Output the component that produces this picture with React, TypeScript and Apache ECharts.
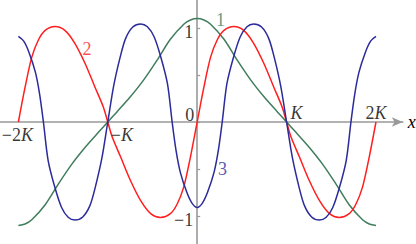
import React, { useEffect, useRef } from 'react';
import * as echarts from 'echarts';

// x in units of K
const green: [number, number][] = [
  [-2, -1.1], [-1.925, -1.085], [-1.85, -1.04], [-1.7, -0.88], [-1.55, -0.655], [-1.4, -0.445],
  [-1.25, -0.265], [-1.1, -0.105], [-1, 0], [-0.9, 0.105], [-0.75, 0.265], [-0.6, 0.445], [-0.45, 0.655],
  [-0.3, 0.88], [-0.15, 1.04], [-0.075, 1.085], [0, 1.1], [0.075, 1.085], [0.15, 1.04], [0.3, 0.88],
  [0.45, 0.655], [0.6, 0.445], [0.75, 0.265], [0.9, 0.105], [1, 0], [1.1, -0.105], [1.25, -0.265],
  [1.4, -0.445], [1.55, -0.655], [1.7, -0.88], [1.85, -1.04], [1.925, -1.085], [2, -1.1],
];

const red: [number, number][] = [
  [-2, 0], [-1.925, 0.37], [-1.85, 0.69], [-1.775, 0.875], [-1.7, 0.975], [-1.59, 1.015], [-1.48, 0.975],
  [-1.37, 0.84], [-1.255, 0.625], [-1.143, 0.37], [-1.05, 0.16], [-1, 0], [-0.95, -0.16], [-0.857, -0.37],
  [-0.745, -0.625], [-0.63, -0.84], [-0.52, -0.975], [-0.41, -1.015], [-0.3, -0.975], [-0.225, -0.875],
  [-0.15, -0.69], [-0.075, -0.37], [0, 0], [0.075, 0.37], [0.15, 0.69], [0.225, 0.875], [0.3, 0.975],
  [0.41, 1.015], [0.52, 0.975], [0.63, 0.84], [0.745, 0.625], [0.857, 0.37], [0.95, 0.16], [1, 0],
  [1.05, -0.16], [1.143, -0.37], [1.255, -0.625], [1.37, -0.84], [1.48, -0.975], [1.59, -1.015],
  [1.7, -0.975], [1.775, -0.875], [1.85, -0.69], [1.925, -0.37], [2, 0],
];

const blue: [number, number][] = [
  [-2, 0.91], [-1.94, 0.86], [-1.883, 0.745], [-1.81, 0.53], [-1.763, 0.3], [-1.72, 0], [-1.667, -0.41],
  [-1.592, -0.695], [-1.518, -0.907], [-1.443, -1.014], [-1.368, -1.043], [-1.28, -1.01], [-1.2, -0.89],
  [-1.14, -0.695], [-1.065, -0.38], [-1, 0], [-0.935, 0.38], [-0.86, 0.695], [-0.8, 0.89], [-0.72, 1.01],
  [-0.632, 1.043], [-0.557, 1.014], [-0.482, 0.907], [-0.408, 0.695], [-0.333, 0.41], [-0.28, 0],
  [-0.237, -0.3], [-0.19, -0.53], [-0.117, -0.745], [-0.06, -0.86], [0, -0.91], [0.06, -0.86],
  [0.117, -0.745], [0.19, -0.53], [0.237, -0.3], [0.28, 0], [0.333, 0.41], [0.408, 0.695], [0.482, 0.907],
  [0.557, 1.014], [0.632, 1.043], [0.72, 1.01], [0.8, 0.89], [0.86, 0.695], [0.935, 0.38], [1, 0],
  [1.065, -0.38], [1.14, -0.695], [1.2, -0.89], [1.28, -1.01], [1.368, -1.043], [1.443, -1.014],
  [1.518, -0.907], [1.592, -0.695], [1.667, -0.41], [1.72, 0], [1.763, 0.3], [1.81, 0.53], [1.883, 0.745],
  [1.94, 0.86], [2, 0.91],
];

const tickPos = [-2, -1, 0, 1, 2];
const tickText = ['−2K', '−K', '0', 'K', '2K'];
const yTickPos = [1, -1];
const yTickText = ['1', '−1'];
const curveNames = ['1', '2', '3'];
const curveLabelAt: [number, number][] = [[0.26, 1.09], [-1.233, 0.78], [0.283, -0.505]];

const FONT = 'Liberation Serif';
const FS = 18;
const COLORS = ['#3f7d5c', '#ff1f1f', '#2b2b9b'];
const AXIS = '#999999';

const tickPlacement = [
  { position: [-1, 4], align: 'center', verticalAlign: 'top' },
  { position: [3, 4], align: 'left', verticalAlign: 'top' },
  { position: [-3, 2], align: 'right', verticalAlign: 'bottom' },
  { position: [4, 0], align: 'left', verticalAlign: 'bottom' },
  { position: [0, 0], align: 'center', verticalAlign: 'bottom' },
];

function toRich(s: string): string {
  const pre = s.replace('K', '');
  return (pre ? '{n|' + pre + '}' : '') + (s.indexOf('K') >= 0 ? '{k|K}' : '');
}

export default function App() {
  const ref = useRef<HTMLDivElement>(null);
  useEffect(() => {
    const chart = echarts.init(ref.current!, null, { renderer: 'svg' });
    const rich = {
      n: { fontFamily: FONT, fontSize: FS, color: '#000' },
      k: { fontFamily: FONT, fontSize: FS, fontStyle: 'italic', color: '#000' },
    };
    const curves = [green, red, blue];
    chart.setOption({
      animation: false,
      grid: { left: 0.5, width: 402.3, top: -19, height: 282, containLabel: false, outerBoundsMode: 'none' },
      xAxis: {
        type: 'value', min: -2.2, max: 2.3,
        axisLine: { onZero: true, symbol: ['none', 'arrow'], symbolSize: [7, 11], lineStyle: { color: AXIS, width: 1.6 } },
        axisTick: { show: false }, axisLabel: { show: false }, splitLine: { show: false },
        name: 'x', nameLocation: 'end', nameGap: 5,
        nameTextStyle: { fontFamily: FONT, fontSize: FS, fontStyle: 'italic', color: '#000', verticalAlign: 'middle' },
      },
      yAxis: {
        type: 'value', min: -1.5, max: 1.5, interval: 0.5,
        axisLine: { onZero: true, lineStyle: { color: AXIS, width: 1.6 } },
        axisTick: { show: true, inside: true, length: 3, lineStyle: { color: AXIS, width: 1.2 } },
        axisLabel: { show: false },
        splitLine: { show: false },
      },
      series: [
        ...curves.map((d, i) => ({
          type: 'line', data: d, showSymbol: false, smooth: 0.3,
          lineStyle: { color: COLORS[i], width: 1.5 }, itemStyle: { color: COLORS[i] }, z: 3 + i,
        })),
        {
          type: 'scatter', symbolSize: 0, z: 10, silent: true,
          data: tickPos.map((p, i) => ({
            value: [p, 0],
            label: {
              show: true, formatter: toRich(tickText[i]), rich,
              position: tickPlacement[i].position, align: tickPlacement[i].align,
              verticalAlign: tickPlacement[i].verticalAlign,
            },
          })),
        },
        {
          type: 'scatter', symbolSize: 0, z: 10, silent: true,
          data: yTickPos.map((p, i) => ({
            value: [0, p],
            label: {
              show: true, formatter: yTickText[i], position: [-4, 4], align: 'right', verticalAlign: 'middle',
              fontFamily: FONT, fontSize: FS, color: '#000',
            },
          })),
        },
        {
          type: 'scatter', symbolSize: 0, z: 10, silent: true,
          data: curveNames.map((n, i) => ({
            value: curveLabelAt[i],
            label: {
              show: true, formatter: n, position: [0, 0], align: 'center', verticalAlign: 'middle',
              fontFamily: FONT, fontSize: FS, color: COLORS[i],
            },
          })),
        },
      ],
    });
    return () => chart.dispose();
  }, []);
  return <div ref={ref} style={{ position: 'absolute', left: 0, top: 0, width: 416, height: 244 }} />;
}
